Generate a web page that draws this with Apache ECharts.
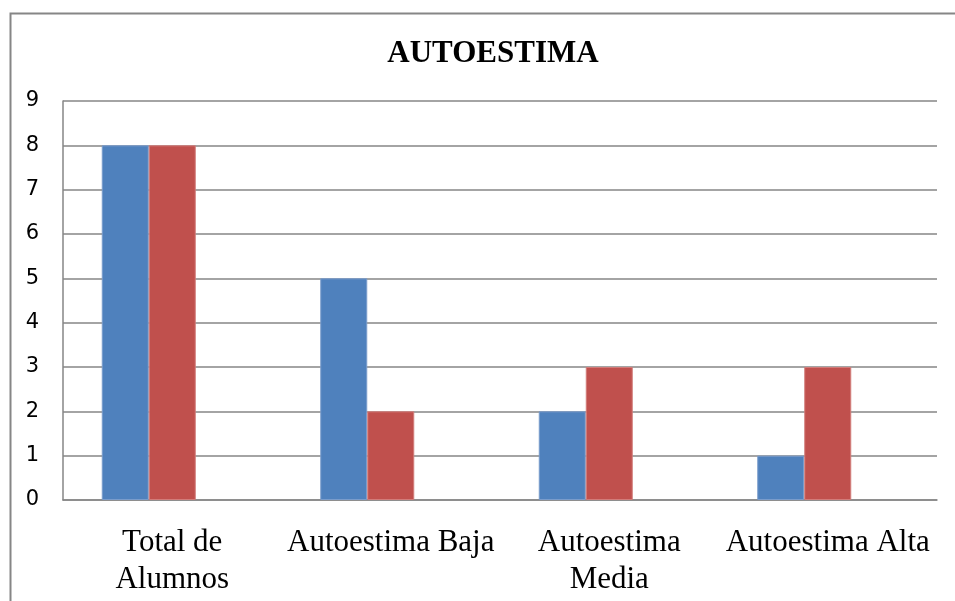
<!DOCTYPE html>
<html>
<head>
<meta charset="utf-8" />
<title>AUTOESTIMA</title>
<script src="https://cdn.jsdelivr.net/npm/echarts@6/dist/echarts.min.js"></script>
<style>
	html, body { margin: 0; padding: 0; background: #fff; }
	#chart { width: 955px; height: 601px; }
</style>
</head>
<body>
<div id="chart"></div>
<script>
var categories = ['Total de\nAlumnos', 'Autoestima Baja', 'Autoestima\nMedia', 'Autoestima Alta'];
var serie1 = [8, 5, 2, 1];
var serie2 = [8, 2, 3, 3];
var serie3 = [0, 0, 0, 0]; // empty third series, keeps the bar offsets
var yTicks = [0, 9, 1];

var chart = echarts.init(document.getElementById('chart'));
var option = {
	animation: false,
	backgroundColor: '#fff',
	title: {
		text: 'AUTOESTIMA',
		left: 488,
		top: 33,
		textAlign: 'center',
		textStyle: {
			fontFamily: 'Liberation Serif',
			fontWeight: 'bold',
			fontSize: 31,
			color: '#000'
		}
	},
	graphic: [{
		type: 'rect',
		shape: { x: 10.5, y: 13.5, width: 1000, height: 700 },
		style: { fill: 'none', stroke: '#868686', lineWidth: 2 },
		silent: true
	}],
	grid: { left: 63, right: 18, top: 101, bottom: 101 },
	xAxis: {
		type: 'category',
		data: categories,
		axisLine: { lineStyle: { color: '#868686', width: 1.5 } },
		axisTick: { show: false },
		axisLabel: {
			fontFamily: 'Liberation Serif',
			fontSize: 31,
			color: '#000',
			lineHeight: 37,
			margin: 24,
			interval: 0
		}
	},
	yAxis: {
		type: 'value',
		min: yTicks[0],
		max: yTicks[1],
		interval: yTicks[2],
		axisLine: { show: true, lineStyle: { color: '#868686', width: 1.5 } },
		axisTick: { show: false },
		splitLine: { lineStyle: { color: '#868686', width: 1.5 } },
		axisLabel: {
			fontFamily: 'DejaVu Sans',
			fontSize: 21,
			color: '#000',
			margin: 24,
			padding: [11, 0, 0, 0]
		}
	},
	series: [{
		type: 'bar',
		data: serie1,
		barWidth: 47,
		barGap: '0%',
		itemStyle: { color: '#4F81BD', borderColor: '#7a9ccb', borderWidth: 1 }
	}, {
		type: 'bar',
		data: serie2,
		barWidth: 47,
		barGap: '0%',
		itemStyle: { color: '#C0504D', borderColor: '#d27c7a', borderWidth: 1 }
	}, {
		type: 'bar',
		data: serie3,
		barWidth: 47,
		barGap: '0%',
		itemStyle: { color: '#9BBB59' }
	}]
};
chart.setOption(option);
</script>
</body>
</html>
